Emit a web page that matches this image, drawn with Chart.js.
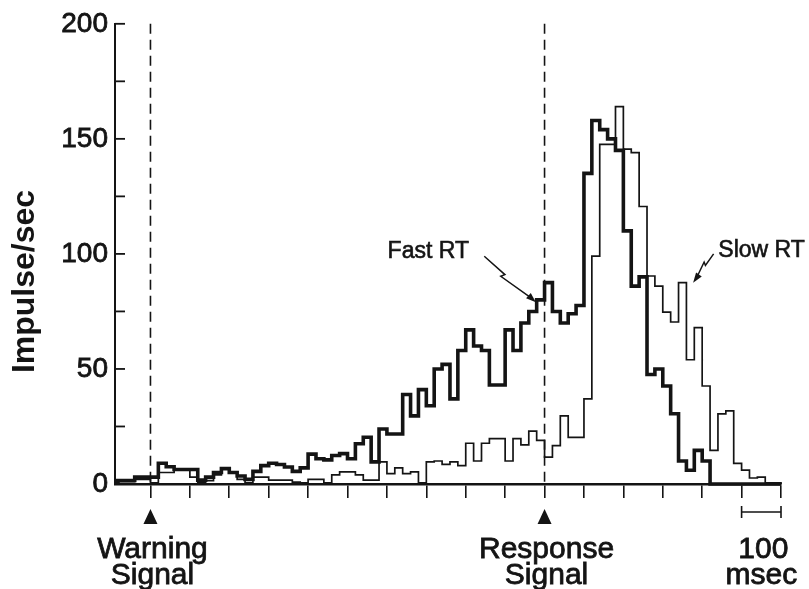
<!DOCTYPE html>
<html>
<head>
<meta charset="utf-8">
<script src="https://cdn.jsdelivr.net/npm/chart.js@4.4.1/dist/chart.umd.min.js"></script>
<style>
  html, body { margin: 0; padding: 0; background: #fff; }
  canvas { display: block; }
</style>
</head>
<body>
<canvas id="hist" width="809" height="589"></canvas>
<script>
// bins of 20 ms; the first one starts 100 ms before the warning signal
var BIN_START = -100;
var BIN_W = 20;

// impulse/sec per bin, fast reaction times (thick trace)
var fastRT = [
  1.5, 1.5, 1.5, 3, 3,
  3, 9, 7.5, 6.3, 6.3, 6.3, 1.7, 3, 5, 6.7,
  5, 3.5, 2, 5.5, 8, 9, 8.5, 7.4, 5.5, 7,
  13, 11, 10.5, 12.4, 13.2, 11, 17.5, 20.3, 9.6, 23.9,
  21.7, 21.7, 38.9, 29.6, 41, 34, 50, 52, 37, 58,
  67, 60, 58, 43, 43, 67, 58, 70, 75, 80,
  87.5, 75, 70, 74, 77.6, 135, 158, 154, 150, 145,
  110, 86, 90, 47.6, 50, 42.6, 30.5, 10, 6, 14.6,
  10, 0, 0, 0, 0, 0, 0, 0, 0, 0
];

// impulse/sec per bin, slow reaction times (thin trace)
var slowRT = [
  0.5, 1, 1, 2, 2,
  0.5, 5, 5, 6, 6, 3, 0.5, 1.5, 4, 6.5,
  5, 2, 0.5, 3, 3, 1.7, 1.7, 1.7, 0.8, 0.5,
  2, 2, 0.5, 4, 5.3, 5.3, 4, 1.7, 1.7, 9.6,
  4.5, 7, 4.5, 5.3, 0.5, 9.6, 10, 8.5, 9.6, 8,
  17.7, 10, 17.7, 19.7, 19.7, 10, 19.7, 17, 23, 19,
  11.7, 16.7, 29.6, 20.3, 20.3, 37, 99, 147.6, 147.6, 164,
  145.5, 144, 120.6, 90.4, 86, 74.7, 70.4, 87.5, 54, 68,
  42.6, 14.6, 30.5, 31.8, 9, 6, 2.6, 3, 0.5, 0.5
];

var xTicks = [0, 100, 200, 300, 400, 500, 600, 700, 800, 900, 1000, 1100, 1200, 1300, 1400, 1500, 1600];
var yTicks = [25, 50, 75, 100, 125, 150, 175, 200];

var warningAt = 0;
var responseAt = 1000;
var scaleBar = [1500, 1600];

var INK = '#141414';
var FONT = '"Liberation Sans", Arial, sans-serif';
Chart.defaults.font.family = FONT;
Chart.defaults.color = INK;

function toPoints(vals) {
  var pts = vals.map(function (v, i) { return { x: BIN_START + i * BIN_W, y: v }; });
  pts.push({ x: BIN_START + vals.length * BIN_W, y: 0 });
  return pts;
}

// slightly heavier text, like the printed figure
function heavyText(ctx, txt, x, y) {
  ctx.fillText(txt, x, y);
  ctx.strokeText(txt, x, y);
}

// arrow with a small zig-zag like the hand-drawn ones
function arrow(ctx, a, b, kink) {
  var dx = b.x - a.x, dy = b.y - a.y;
  var len = Math.sqrt(dx * dx + dy * dy);
  var ux = dx / len, uy = dy / len;
  var px = -uy, py = ux;
  var m1 = { x: a.x + dx * 0.4, y: a.y + dy * 0.4 };
  var m2 = { x: m1.x - ux * 2 + px * kink, y: m1.y - uy * 2 + py * kink };
  var end = { x: b.x - ux * 6, y: b.y - uy * 6 };
  ctx.beginPath();
  ctx.moveTo(a.x, a.y);
  ctx.lineTo(m1.x, m1.y);
  ctx.lineTo(m2.x, m2.y);
  ctx.lineTo(end.x, end.y);
  ctx.stroke();
  ctx.beginPath();
  ctx.moveTo(b.x, b.y);
  ctx.lineTo(b.x - ux * 10 + px * 3.5, b.y - uy * 10 + py * 3.5);
  ctx.lineTo(b.x - ux * 10 - px * 3.5, b.y - uy * 10 - py * 3.5);
  ctx.closePath();
  ctx.fill();
}

var marcas = {
  id: 'marcas',
  beforeDatasetsDraw: function (chart) {
    var ctx = chart.ctx, area = chart.chartArea, xs = chart.scales.x;
    ctx.save();
    ctx.strokeStyle = INK;
    ctx.lineWidth = 1.6;
    ctx.setLineDash([10, 6]);
    [warningAt, responseAt].forEach(function (t) {
      var x = xs.getPixelForValue(t);
      ctx.beginPath();
      ctx.moveTo(x, area.top);
      ctx.lineTo(x, area.bottom);
      ctx.stroke();
    });
    ctx.restore();
  },
  afterDraw: function (chart) {
    var ctx = chart.ctx, area = chart.chartArea;
    var xs = chart.scales.x, ys = chart.scales.y;
    ctx.save();
    ctx.strokeStyle = INK;
    ctx.fillStyle = INK;

    // inward ticks on the y axis
    ctx.lineWidth = 1.8;
    yTicks.forEach(function (v) {
      var y = ys.getPixelForValue(v);
      ctx.beginPath();
      ctx.moveTo(area.left, y);
      ctx.lineTo(area.left + 10, y);
      ctx.stroke();
    });

    // y title
    ctx.save();
    ctx.translate(25, ys.getPixelForValue(88));
    ctx.rotate(-Math.PI / 2);
    ctx.font = 'bold 32px ' + FONT;
    ctx.textAlign = 'center';
    ctx.textBaseline = 'middle';
    ctx.fillText('Impulse/sec', 0, 0);
    ctx.restore();

    // signal markers under the axis
    ctx.font = '30px ' + FONT;
    ctx.textAlign = 'center';
    ctx.textBaseline = 'alphabetic';
    ctx.lineWidth = 0.8;
    [[warningAt, 'Warning'], [responseAt, 'Response']].forEach(function (s) {
      var x = xs.getPixelForValue(s[0]);
      ctx.beginPath();
      ctx.moveTo(x, area.bottom + 25);
      ctx.lineTo(x - 7, area.bottom + 40);
      ctx.lineTo(x + 7, area.bottom + 40);
      ctx.closePath();
      ctx.fill();
      heavyText(ctx, s[1], x + 2, area.bottom + 74);
      heavyText(ctx, 'Signal', x + 2, area.bottom + 100);
    });

    // 100 msec scale bar
    var x0 = xs.getPixelForValue(scaleBar[0]), x1 = xs.getPixelForValue(scaleBar[1]);
    heavyText(ctx, '100', (x0 + x1) / 2 + 2, area.bottom + 74);
    heavyText(ctx, 'msec', (x0 + x1) / 2, area.bottom + 100);
    var yb = area.bottom + 28;
    ctx.lineWidth = 1.6;
    ctx.beginPath();
    ctx.moveTo(x0, yb); ctx.lineTo(x1, yb);
    ctx.moveTo(x0, yb - 6); ctx.lineTo(x0, yb + 6);
    ctx.moveTo(x1, yb - 6); ctx.lineTo(x1, yb + 6);
    ctx.stroke();

    // curve labels
    ctx.font = '23px ' + FONT;
    ctx.textBaseline = 'middle';
    ctx.lineWidth = 0.6;
    heavyText(ctx, 'Fast RT', xs.getPixelForValue(705), ys.getPixelForValue(101));
    ctx.textAlign = 'left';
    heavyText(ctx, 'Slow RT', xs.getPixelForValue(1441), ys.getPixelForValue(101.5));

    ctx.lineWidth = 1.5;
    arrow(ctx,
      { x: xs.getPixelForValue(847), y: ys.getPixelForValue(99) },
      { x: xs.getPixelForValue(978), y: ys.getPixelForValue(79) }, 4);
    arrow(ctx,
      { x: xs.getPixelForValue(1429), y: ys.getPixelForValue(100) },
      { x: xs.getPixelForValue(1377), y: ys.getPixelForValue(87.5) }, 3);
    ctx.restore();
  }
};

new Chart(document.getElementById('hist'), {
  type: 'line',
  data: {
    datasets: [{
      label: 'Fast RT',
      data: toPoints(fastRT),
      stepped: 'before',
      borderColor: INK,
      borderWidth: 3.6,
      pointRadius: 0,
      fill: false,
      clip: { left: 0, top: 5, right: 5, bottom: 5 }
    }, {
      label: 'Slow RT',
      data: toPoints(slowRT),
      stepped: 'before',
      borderColor: INK,
      borderWidth: 1.7,
      pointRadius: 0,
      fill: false,
      clip: { left: 0, top: 5, right: 5, bottom: 5 }
    }]
  },
  options: {
    responsive: false,
    animation: false,
    devicePixelRatio: 1,
    layout: { padding: { top: 18, right: 28, left: 0, bottom: 0 } },
    plugins: { legend: { display: false }, tooltip: { enabled: false } },
    scales: {
      x: {
        type: 'linear',
        min: -90,
        max: 1600,
        afterFit: function (s) { s.height = 105; },
        afterBuildTicks: function (s) {
          s.ticks = xTicks.map(function (v) { return { value: v }; });
        },
        ticks: { display: false },
        grid: { drawOnChartArea: false, drawTicks: true, tickLength: 14, color: INK, lineWidth: 1.6 },
        border: { display: true, color: INK, width: 2.5 }
      },
      y: {
        min: 0,
        max: 200,
        afterFit: function (s) { s.width = 115; },
        ticks: {
          stepSize: 25,
          padding: 7,
          font: { size: 28 },
          color: INK,
          textStrokeColor: INK,
          textStrokeWidth: 0.8,
          callback: function (v) { return v % 50 === 0 ? v : ''; }
        },
        grid: { drawOnChartArea: false, drawTicks: false },
        border: { display: true, color: INK, width: 2 }
      }
    }
  },
  plugins: [marcas]
});
</script>
</body>
</html>
